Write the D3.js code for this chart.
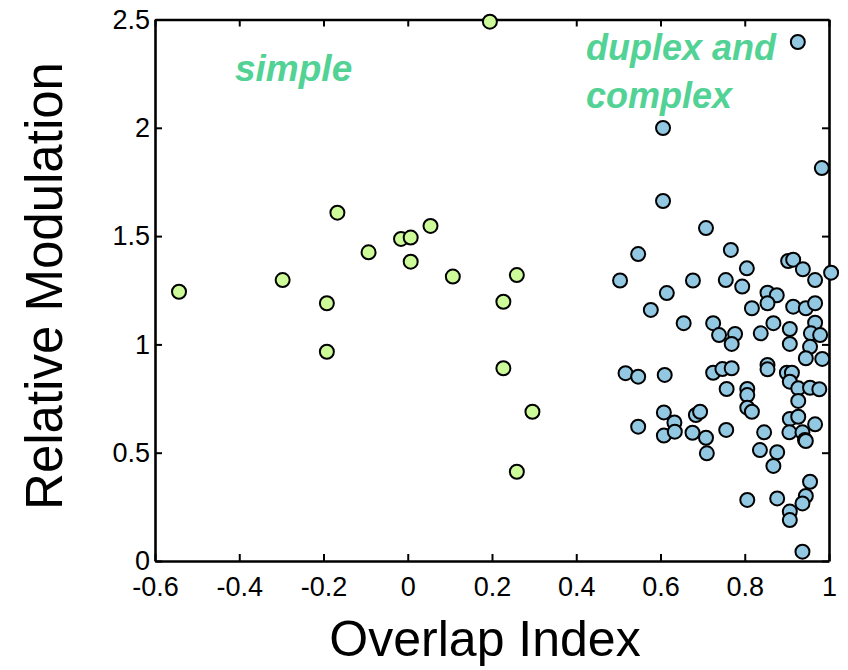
<!DOCTYPE html>
<html>
<head>
<meta charset="utf-8">
<script src="https://cdn.jsdelivr.net/npm/d3@7"></script>
<style>
  html, body { margin: 0; padding: 0; background: #fff; }
  svg { display: block; font-family: "Liberation Sans", Arial, Helvetica, sans-serif; }
</style>
</head>
<body>
<svg id="chart" width="848" height="670"></svg>
<script>
// Simple cells: overlap index vs relative modulation
const simpleX = [-0.543, -0.297, -0.192, -0.192, -0.167, -0.093, -0.016, 0.007, 0.007, 0.054, 0.107, 0.195, 0.259, 0.227, 0.227, 0.296, 0.259];
const simpleY = [1.243, 1.297, 1.19, 0.966, 1.608, 1.425, 1.487, 1.493, 1.382, 1.547, 1.313, 2.49, 1.32, 1.197, 0.89, 0.689, 0.412];

// Duplex and complex cells
const complexX = [
  0.926, 0.606, 0.606, 0.983, 0.708, 0.547, 0.504, 0.615, 0.577, 0.677,
  0.655, 0.767, 0.805, 0.903, 0.915, 0.938, 0.967, 1.005, 0.755, 0.794,
  0.854, 0.876, 0.854, 0.817, 0.915, 0.945, 0.967, 0.725, 0.739, 0.777,
  0.769, 0.838, 0.868, 0.907, 0.907, 0.967, 0.957, 0.979, 0.955, 0.945,
  0.984, 0.61, 0.725, 0.747, 0.769, 0.854, 0.854, 0.9, 0.912, 0.517,
  0.547, 0.608, 0.633, 0.547, 0.608, 0.634, 0.684, 0.676, 0.71, 0.907,
  0.927, 0.955, 0.977, 0.927, 0.757, 0.806, 0.806, 0.806, 0.817, 0.694,
  0.907, 0.927, 0.967, 0.906, 0.937, 0.943, 0.945, 0.708, 0.756, 0.846,
  0.836, 0.877, 0.868, 0.955, 0.945, 0.937, 0.907, 0.907, 0.806, 0.877,
  0.937
];
const complexY = [
  2.396, 1.999, 1.662, 1.814, 1.537, 1.417, 1.295, 1.237, 1.159, 1.295,
  1.098, 1.436, 1.351, 1.385, 1.391, 1.347, 1.297, 1.331, 1.297, 1.267,
  1.239, 1.227, 1.19, 1.167, 1.174, 1.167, 1.19, 1.098, 1.043, 1.048,
  1.002, 1.051, 1.098, 1.071, 1.002, 1.1, 1.051, 1.043, 0.989, 0.936,
  0.933, 0.859, 0.869, 0.886, 0.89, 0.905, 0.885, 0.869, 0.869, 0.867,
  0.851, 0.686, 0.64, 0.62, 0.579, 0.597, 0.674, 0.592, 0.497, 0.828,
  0.797, 0.8, 0.793, 0.739, 0.794, 0.794, 0.766, 0.708, 0.689, 0.689,
  0.656, 0.666, 0.631, 0.594, 0.594, 0.559, 0.554, 0.569, 0.605, 0.594,
  0.512, 0.502, 0.439, 0.366, 0.3, 0.266, 0.228, 0.189, 0.282, 0.289,
  0.043
];

const xTicks = [-0.6, -0.4, -0.2, 0, 0.2, 0.4, 0.6, 0.8, 1];
const xTickLabels = ["-0.6", "-0.4", "-0.2", "0", "0.2", "0.4", "0.6", "0.8", "1"];
const yTicks = [0, 0.5, 1, 1.5, 2, 2.5];
const yTickLabels = ["0", "0.5", "1", "1.5", "2", "2.5"];

const svg = d3.select("#chart");
const plotLeft = 155, plotRight = 829, plotTop = 19.5, plotBottom = 561;

const x = d3.scaleLinear().domain([-0.6, 1]).range([plotLeft, plotRight]);
const y = d3.scaleLinear().domain([0, 2.5]).range([plotBottom, plotTop]);

function styleAxis(g, showLabels) {
  g.attr("font-size", 27).attr("font-family", "'Liberation Sans', Arial, sans-serif");
  g.select(".domain").attr("stroke", "#000").attr("stroke-width", 2.6);
  g.selectAll(".tick line").attr("stroke", "#000").attr("stroke-width", 2);
  g.selectAll(".tick text").attr("fill", "#000");
  if (!showLabels) g.selectAll(".tick text").remove();
}

const xFmt = d => xTickLabels[xTicks.indexOf(d)];
const yFmt = d => yTickLabels[yTicks.indexOf(d)];

svg.append("g")
  .attr("transform", `translate(0,${plotBottom})`)
  .call(d3.axisBottom(x).tickValues(xTicks).tickFormat(xFmt).tickSizeInner(-7).tickSizeOuter(0).tickPadding(16))
  .call(g => styleAxis(g, true));

svg.append("g")
  .attr("transform", `translate(0,${plotTop})`)
  .call(d3.axisTop(x).tickValues(xTicks).tickSizeInner(-7).tickSizeOuter(0))
  .call(g => styleAxis(g, false));

svg.append("g")
  .attr("transform", `translate(${plotLeft},0)`)
  .call(d3.axisLeft(y).tickValues(yTicks).tickFormat(yFmt).tickSizeInner(-7).tickSizeOuter(0).tickPadding(5))
  .call(g => styleAxis(g, true));

svg.append("g")
  .attr("transform", `translate(${plotRight},0)`)
  .call(d3.axisRight(y).tickValues(yTicks).tickSizeInner(-7).tickSizeOuter(0))
  .call(g => styleAxis(g, false));

// Axis titles
svg.append("text")
  .attr("x", 485).attr("y", 656)
  .attr("text-anchor", "middle")
  .style("font-size", "50px")
  .attr("fill", "#000")
  .text("Overlap Index");

svg.append("text")
  .attr("transform", "translate(62,286) rotate(-90)")
  .attr("text-anchor", "middle")
  .style("font-size", "51px")
  .attr("fill", "#000")
  .text("Relative Modulation");

// Group annotations
const noteColor = "#52d295";
svg.append("text")
  .attr("x", 235).attr("y", 81)
  .style("font-size", "37px").style("font-weight", "bold").style("font-style", "italic")
  .attr("fill", noteColor)
  .text("simple");

const dc = svg.append("text")
  .style("font-size", "36px").style("font-weight", "bold").style("font-style", "italic")
  .attr("fill", noteColor);
dc.append("tspan").attr("x", 586).attr("y", 60).text("duplex and");
dc.append("tspan").attr("x", 586).attr("y", 108).text("complex");

// Points
const simplePts = simpleX.map((v, i) => ({ x: v, y: simpleY[i] }));
const complexPts = complexX.map((v, i) => ({ x: v, y: complexY[i] }));

svg.append("g").selectAll("circle")
  .data(simplePts)
  .join("circle")
  .attr("cx", d => x(d.x))
  .attr("cy", d => y(d.y))
  .attr("r", 7)
  .attr("fill", "#cdfb9a")
  .attr("stroke", "#000")
  .attr("stroke-width", 2);

svg.append("g").selectAll("circle")
  .data(complexPts)
  .join("circle")
  .attr("cx", d => x(d.x))
  .attr("cy", d => y(d.y))
  .attr("r", 7)
  .attr("fill", "#93c8e2")
  .attr("stroke", "#000")
  .attr("stroke-width", 2);
</script>
</body>
</html>
